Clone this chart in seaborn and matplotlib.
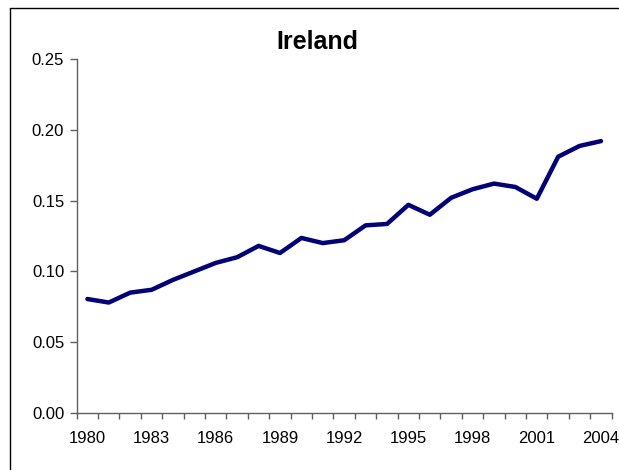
import matplotlib
matplotlib.use("Agg")
import matplotlib.pyplot as plt
import pandas as pd
import seaborn as sns
from matplotlib.lines import Line2D

# data
years = list(range(1980, 2005))
values = [0.0805, 0.078, 0.085, 0.087, 0.094, 0.100, 0.106, 0.110, 0.118, 0.113,
          0.1236, 0.120, 0.122, 0.1325, 0.1335, 0.147, 0.140, 0.152, 0.158, 0.162,
          0.1596, 0.1513, 0.181, 0.1886, 0.192]
label_years = [1980, 1983, 1986, 1989, 1992, 1995, 1998, 2001, 2004]
y_ticks = [0.00, 0.05, 0.10, 0.15, 0.20, 0.25]

df = pd.DataFrame({"year": years, "value": values})

sns.set_style("ticks")
plt.rcParams['font.family'] = ['Liberation Sans', 'DejaVu Sans']
plt.rcParams['text.color'] = 'black'
plt.rcParams['xtick.labelcolor'] = 'black'
plt.rcParams['ytick.labelcolor'] = 'black'

fig = plt.figure(figsize=(6.19, 4.70), dpi=100)
ax = fig.add_axes([0.1239, 0.1213, 0.8643, 0.7532])

sns.lineplot(data=df, x="year", y="value", color="#000080", linewidth=3.2, ax=ax)

ax.set_xlim(1979.5, 2004.5)
ax.set_ylim(0, 0.25)
ax.set_yticks(y_ticks)
ax.set_yticklabels([f"{v:.2f}" for v in y_ticks], fontsize=12)

# tick marks between categories, labels every third year
ax.set_xticks([y - 0.5 for y in years] + [2004.5])
ax.set_xticklabels([])
ax.set_xticks(label_years, minor=True)
ax.set_xticklabels([str(y) for y in label_years], minor=True, fontsize=12)
ax.tick_params(axis="x", which="major", length=4, width=1, color="#606060")
ax.tick_params(axis="x", which="minor", length=0, pad=13)
ax.tick_params(axis="y", length=5, width=1, color="#606060", pad=4)

ax.set_xlabel("")
ax.set_ylabel("")
for side in ["top", "right"]:
    ax.spines[side].set_visible(False)
for side in ["left", "bottom"]:
    ax.spines[side].set_color("#606060")
    ax.spines[side].set_linewidth(1)

fig.text(317 / 619, 1 - 42 / 470, "Ireland", fontsize=18, fontweight="bold",
         ha="center", va="center", color="black")

# chart area border (cropped on right and bottom)
fig.add_artist(Line2D([10 / 619, 10 / 619, 1.01], [-0.01, 1 - 7.5 / 470, 1 - 7.5 / 470],
                      color="black", linewidth=1, transform=fig.transFigure))

fig.savefig("out.png", dpi=100)
